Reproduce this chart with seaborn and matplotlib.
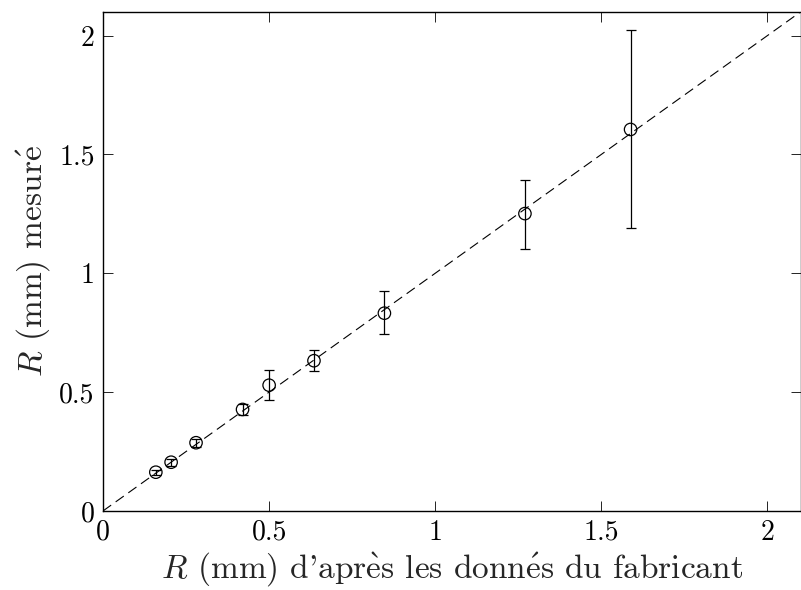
import numpy as np
import pandas as pd
import seaborn as sns
from matplotlib import pyplot as plt
from matplotlib.ticker import FuncFormatter

# manufacturer radius vs measured radius (mm)
r_fab = [0.159, 0.205, 0.28, 0.42, 0.5, 0.635, 0.847, 1.27, 1.588]
r_mes = [0.163, 0.205, 0.287, 0.427, 0.529, 0.632, 0.832, 1.251, 1.605]
err_lo = [0.010, 0.014, 0.017, 0.022, 0.063, 0.042, 0.086, 0.147, 0.416]
err_hi = [0.010, 0.014, 0.017, 0.022, 0.063, 0.046, 0.092, 0.143, 0.420]
ref_line = [0, 2.1]

sns.set_style('ticks')
plt.rcParams['font.family'] = ['cmr10', 'DejaVu Serif']
plt.rcParams['mathtext.fontset'] = 'cm'
plt.rcParams['axes.unicode_minus'] = False
plt.rcParams['axes.formatter.use_mathtext'] = True

df = pd.DataFrame({'fab': r_fab, 'mes': r_mes})

fig = plt.figure(figsize=(8.01, 5.90), dpi=100)
ax = fig.add_axes([0.1286, 0.134, 0.871, 0.846])

sns.lineplot(x=ref_line, y=ref_line, ax=ax, color='black', lw=0.8,
             linestyle=(0, (9, 5)))
ax.errorbar(df['fab'], df['mes'], yerr=[err_lo, err_hi], fmt='none',
            ecolor='black', elinewidth=0.9, capsize=3.6, capthick=0.9)
sns.scatterplot(data=df, x='fab', y='mes', ax=ax, marker='o', s=80,
                facecolor='none', edgecolor='black', linewidth=0.9, zorder=3)

ax.set_xlim(0, 2.1)
ax.set_ylim(0, 2.1)
ax.set_xticks([0, 0.5, 1, 1.5, 2])
ax.set_yticks([0, 0.5, 1, 1.5, 2])
fmt = FuncFormatter(lambda v, p: '%g' % v)
ax.xaxis.set_major_formatter(fmt)
ax.yaxis.set_major_formatter(fmt)
ax.tick_params(direction='in', length=7, width=0.6, top=True, right=True,
               labelsize=20, colors='black', pad=6)
for s in ax.spines.values():
    s.set_linewidth(1.0)
    s.set_color('black')

e_grave = r'$\grave{\mathrm{e}}$'
e_acute = r'$\acute{\mathrm{e}}$'
ax.set_xlabel("$R$ (mm) d'apr" + e_grave + "s les donn" + e_acute + "s du fabricant",
              fontsize=24, labelpad=3)
ax.set_ylabel("$R$ (mm) mesur" + e_acute, fontsize=24, labelpad=5)

fig.savefig('out.png', dpi=100)
